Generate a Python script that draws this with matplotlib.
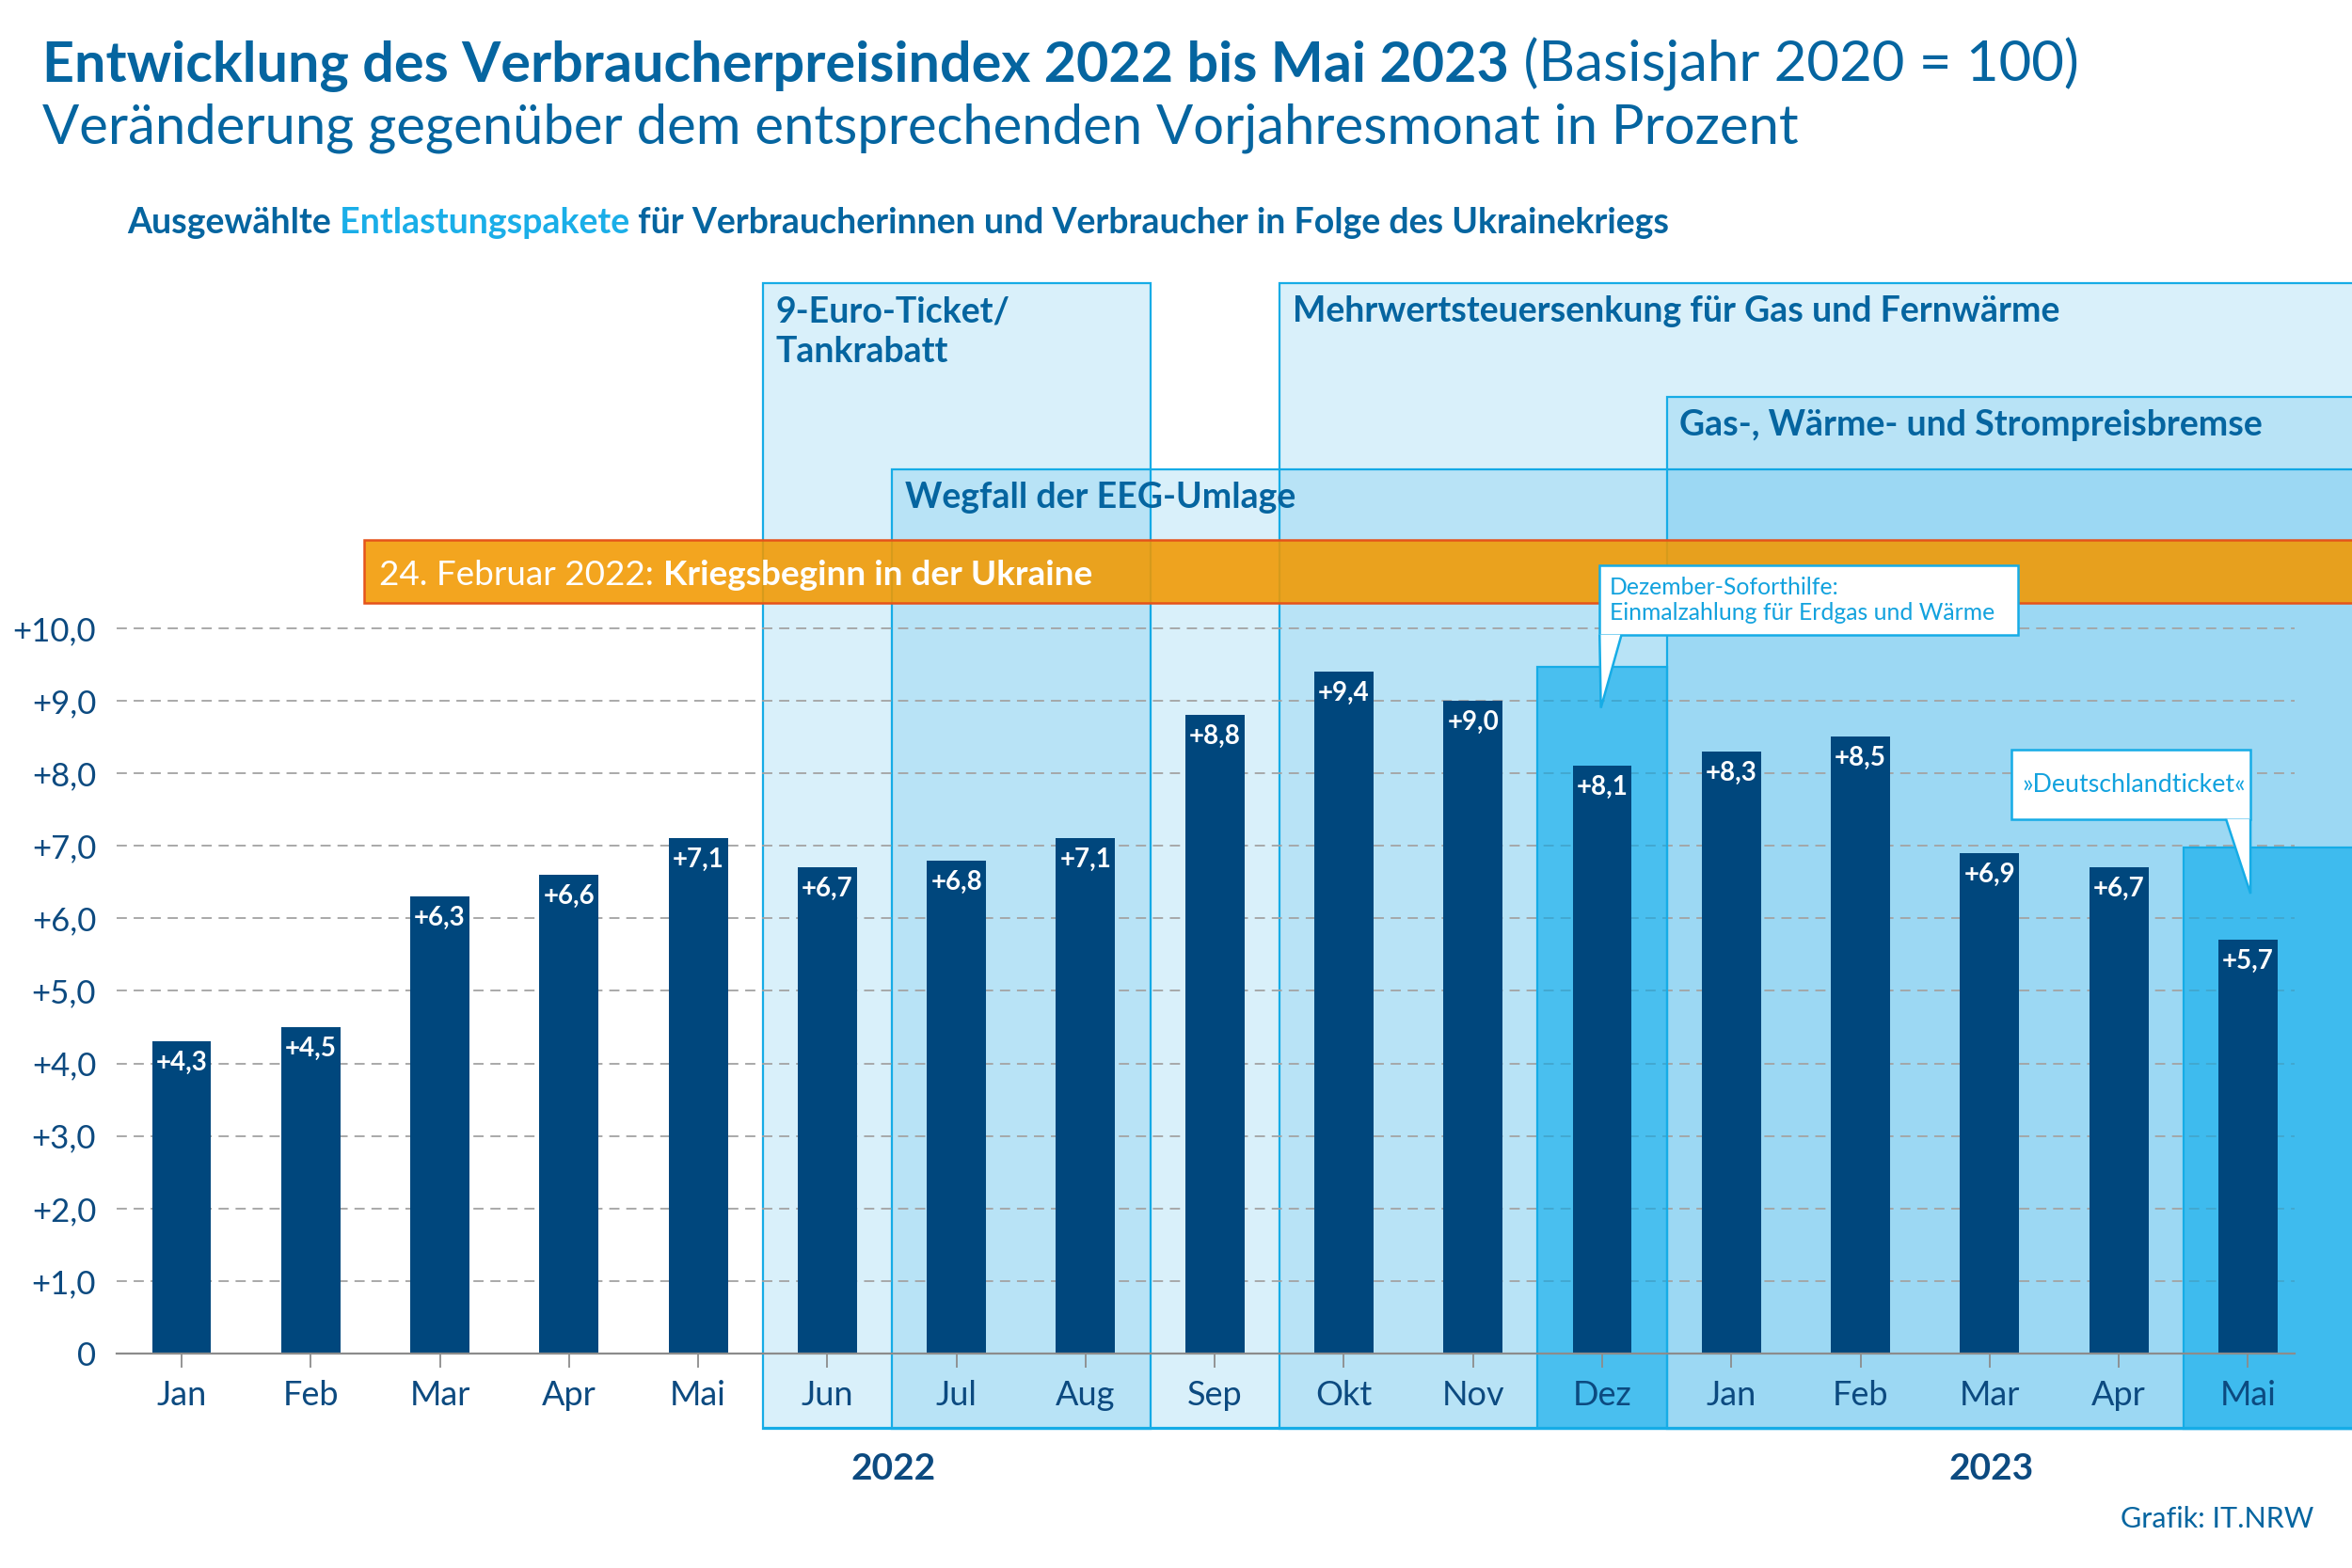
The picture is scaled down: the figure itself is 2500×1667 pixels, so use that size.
import numpy as np
import matplotlib.pyplot as plt
from matplotlib.patches import Rectangle, Polygon

plt.rcParams['font.family'] = ['Lato', 'DejaVu Sans']

# Data
months = ["Jan", "Feb", "Mar", "Apr", "Mai", "Jun", "Jul", "Aug", "Sep",
          "Okt", "Nov", "Dez", "Jan", "Feb", "Mar", "Apr", "Mai"]
values = [4.3, 4.5, 6.3, 6.6, 7.1, 6.7, 6.8, 7.1, 8.8,
          9.4, 9.0, 8.1, 8.3, 8.5, 6.9, 6.7, 5.7]
yticks = [0, 1, 2, 3, 4, 5, 6, 7, 8, 9, 10]
ytick_labels = ["0", "+1,0", "+2,0", "+3,0", "+4,0", "+5,0",
                "+6,0", "+7,0", "+8,0", "+9,0", "+10,0"]
years = ["2022", "2023"]

# relief packages: (label lines, first month index, last month index or None = ongoing)
pkg_labels = [["9-Euro-Ticket/", "Tankrabatt"], ["Wegfall der EEG-Umlage"],
              ["Mehrwertsteuersenkung für Gas und Fernwärme"],
              ["Gas-, Wärme- und Strompreisbremse"]]
pkg_start = [5, 6, 9, 12]
pkg_end = [7, None, None, None]

# colours
NAVY = '#00477d'
TITLE = '#0565a0'
CYAN = '#16ace6'
TEXTBLUE = '#0c4a80'

W, H = 1568, 1046   # layout measured on the 1568 px preview
def fx(x): return x / W
def fy(y): return 1 - y / H

fig = plt.figure(figsize=(25, 16.67), dpi=100)
ax = fig.add_axes([fx(78), fy(953), 1 - fx(78), fy(189) - fy(953)])
XMAX = 16.806
YMIN = -1.033
ax.set_xlim(-0.5, XMAX)
ax.set_ylim(YMIN, 14.752)

x = np.arange(len(values))
pkg_tops = [14.752, 12.19, 14.752, 13.18]
for lines, s, e, top in zip(pkg_labels, pkg_start, pkg_end, pkg_tops):
    x0 = s - 0.5
    x1 = (e + 0.5) if e is not None else XMAX + 0.2
    ax.add_patch(Rectangle((x0, YMIN), x1 - x0, top - YMIN,
                           facecolor=(0.0, 0.62, 0.89, 0.15), edgecolor=CYAN,
                           lw=1.6, zorder=1, clip_on=False))
    for k, line in enumerate(lines):
        ax.text(x0 + 0.1, top - 0.53 - 0.558 * k, line, fontsize=27,
                fontweight='bold', color=TITLE, va='baseline', ha='left', zorder=6)

# gridlines
for yv in yticks[1:]:
    ax.plot([-0.5, 16.36], [yv, yv], color='#a3a3a3', lw=1.3,
            dashes=(6, 4), zorder=2)

# highlight months: Dezember-Soforthilfe and Deutschlandticket
ax.add_patch(Rectangle((10.5, YMIN), 1.0, 9.46 - YMIN,
                       facecolor=(0.0, 0.66, 0.92, 0.6), edgecolor=CYAN,
                       lw=1.6, zorder=2.2))
ax.add_patch(Rectangle((15.5, YMIN), XMAX - 15.3, 6.98 - YMIN,
                       facecolor=(0.0, 0.66, 0.92, 0.6), edgecolor=CYAN,
                       lw=1.6, zorder=2.2, clip_on=False))
ax.plot([4.5, XMAX], [YMIN, YMIN], color=CYAN, lw=3, zorder=2.3,
        solid_capstyle='butt')

# bars
ax.bar(x, values, width=0.458, color=NAVY, zorder=3)
for xi, v in zip(x, values):
    ax.text(xi, v - 0.40, "+" + f"{v:.1f}".replace(".", ","), ha='center',
            va='baseline', color='white', fontsize=20, fontweight='bold', zorder=4)

# war start band
ax.add_patch(Rectangle((1.415, 10.35), XMAX - 1.2, 0.87,
                       facecolor=(0.95, 0.6, 0.0, 0.88), edgecolor='#e5531a',
                       lw=1.8, zorder=4.5, clip_on=False))

# axes styling
for s in ['left', 'right', 'top']:
    ax.spines[s].set_visible(False)
ax.spines['bottom'].set_position(('data', 0))
ax.spines['bottom'].set_bounds(-0.5, 16.36)
ax.spines['bottom'].set_color('#8c8c8c')
ax.spines['bottom'].set_linewidth(1.6)
ax.spines['bottom'].set_zorder(3.5)
ax.xaxis.set_zorder(3.6)
ax.set_xticks(x, months)
ax.tick_params(axis='x', length=11, width=1.3, color='#8c8c8c', pad=9,
               labelsize=26, labelcolor=TEXTBLUE)
ax.set_yticks(yticks, ytick_labels)
ax.tick_params(axis='y', length=0, pad=16, labelsize=25, labelcolor=TEXTBLUE)
ax.patch.set_alpha(0)

# callouts
def callout(box, tail, lines, tx, ty, size):
    (bx0, by0, bx1, by1) = box
    ax.add_patch(Rectangle((bx0, by0), bx1 - bx0, by1 - by0, facecolor='white',
                           edgecolor=CYAN, lw=1.8, zorder=7))
    ax.add_patch(Polygon(tail, closed=False, facecolor='white', edgecolor=CYAN,
                         lw=1.8, zorder=7.5))
    for k, line in enumerate(lines):
        ax.text(tx, ty - 0.35 * k, line, fontsize=size, color='#12a2de',
                va='baseline', ha='left', zorder=8)

callout((10.98, 9.90, 14.22, 10.87),
        [(10.98, 9.91), (10.99, 8.90), (11.15, 9.91)],
        ["Dezember-Soforthilfe:", "Einmalzahlung für Erdgas und Wärme"], 11.06, 10.46, 17.8)
callout((14.17, 7.36, 16.02, 8.33),
        [(15.83, 7.37), (16.02, 6.34), (16.02, 7.37)],
        ["»Deutschlandticket«"], 14.25, 7.74, 19.3)

# year labels
for yl, xp in zip(years, [5.51, 14.01]):
    ax.text(xp, -1.73, yl, ha='center', va='baseline', fontsize=28,
            fontweight='bold', color=TEXTBLUE, clip_on=False)

# multi-style text lines
renderer = fig.canvas.get_renderer()
def chain(parts, x0, y0):
    xc = x0
    for txt, weight, color, size in parts:
        t = fig.text(xc, y0, txt, fontsize=size, fontweight=weight,
                     color=color, va='baseline', ha='left', zorder=9)
        bb = t.get_window_extent(renderer=renderer)
        xc = bb.x1 / fig.bbox.width

chain([("Entwicklung des Verbraucherpreisindex 2022 bis Mai 2023", 'bold', TITLE, 42.7),
       (" (Basisjahr 2020 = 100)", 'normal', TITLE, 43.2)], fx(28), fy(54.4))
fig.text(fx(28), fy(96), "Veränderung gegenüber dem entsprechenden Vorjahresmonat in Prozent",
         fontsize=41.8, color=TITLE, va='baseline')
chain([("Ausgewählte", 'bold', TITLE, 27), (" Entlastungspakete", 'bold', '#1aaee8', 27),
       (" für Verbraucherinnen und Verbraucher in Folge des Ukrainekriegs", 'bold', TITLE, 27)],
      fx(85), fy(155.6))
chain([("24. Februar 2022: ", 'normal', 'white', 26.6),
       ("Kriegsbeginn in der Ukraine", 'bold', 'white', 26.6)], fx(253), fy(390))
fig.text(fx(1542.4), fy(1019), "Grafik: IT.NRW", fontsize=22, color=TITLE,
         ha='right', va='baseline')

fig.savefig("out.png", dpi=100)
